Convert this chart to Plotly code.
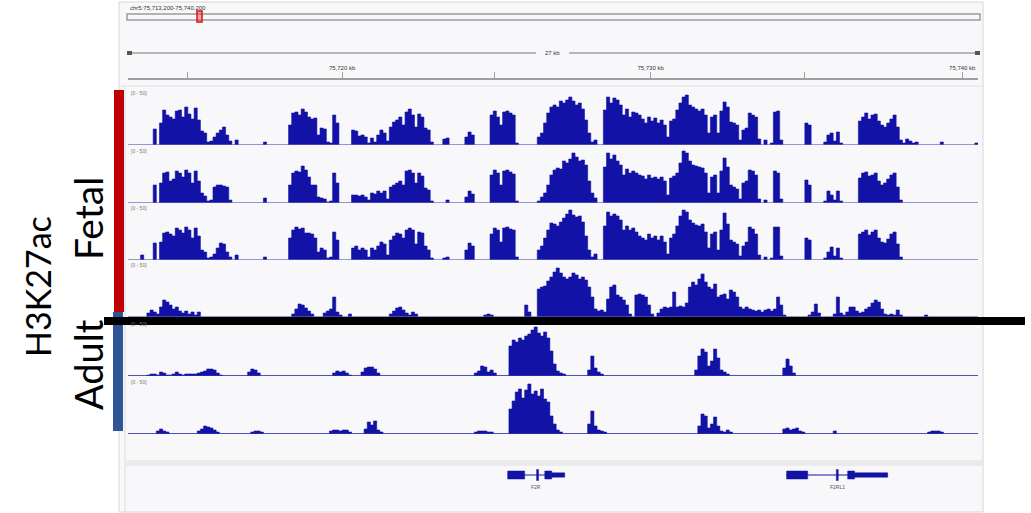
import plotly.graph_objects as go

W, H = 1031, 513

# ---------------------------------------------------------------- data
# Genomic window, in kb from the left edge of the view; coverage in 0.1 kb bins.
VIEW_KB = (0.0, 27.0)
BIN_KB = 0.1
LOCUS = "chr5:75,713,200-75,740,200"
SPAN_LABEL = "27 kb"

RULER_TICKS_KB = [1.9, 6.8, 11.65, 16.6, 21.5, 26.5]
RULER_LABELS = ["", "75,720 kb", "", "75,730 kb", "", "75,740 kb"]

DATA_RANGE = "[0 - 50]"

# H3K27ac coverage, runs of consecutive bins: (first bin start in kb, signal values)
FETAL_1 = [
    (0.8, [16]),
    (1.0, [22, 35, 30, 28, 26, 34, 35, 28, 38, 31, 26, 37, 25, 14, 12, 3]),
    (2.6, [4, 8, 12, 15, 18, 10, 4]),
    (3.4, [5]),
    (4.3, [3]),
    (5.1, [20, 32, 33, 30, 36, 33, 28, 26, 27, 10, 17, 16, 3, 2, 30, 22]),
    (7.1, [15, 14, 9, 10, 8, 2, 7, 3, 10, 15, 12, 4, 18, 23, 25, 28, 20, 33, 36, 30,
           18, 31, 28, 17, 15, 3]),
    (10.0, [6, 7]),
    (10.7, [8, 13, 10]),
    (11.5, [30, 34, 28, 20, 33, 34, 32, 30, 2]),
    (13.0, [8, 12, 22, 32, 38, 40, 38, 44, 42, 45, 48, 44, 40, 42, 36, 25, 12, 3, 5]),
    (15.1, [35, 48, 42, 47, 45, 40, 30, 36, 28, 33, 32, 30, 26, 22, 28, 24, 27, 22, 25, 20,
            8, 24, 26, 35, 42, 48, 50, 40, 38, 36, 34, 36, 30, 12, 28, 30, 12, 34, 43, 38,
            23, 22, 20, 5, 15, 17, 32, 30, 28, 6, 0, 5, 0, 2, 33, 34, 5]),
    (21.5, [22, 20]),
    (22.1, [3, 10, 12, 4, 13, 2]),
    (23.2, [24, 28, 32, 26, 30, 31, 24, 20, 18, 22, 26, 30, 18, 5, 2, 6, 4, 2, 3]),
    (25.8, [3]),
    (26.9, [2]),
]

FETAL_2 = [
    (0.8, [18]),
    (1.0, [20, 30, 31, 22, 24, 32, 30, 26, 33, 30, 20, 32, 22, 10, 7, 2]),
    (2.6, [3, 16, 18, 18, 17, 16, 3]),
    (4.3, [5]),
    (5.1, [18, 30, 32, 31, 37, 33, 26, 18, 18, 6, 5, 4, 1, 2, 30, 20]),
    (7.1, [8, 8, 7, 8, 6, 3, 10, 9, 12, 10, 12, 4, 16, 18, 20, 22, 18, 32, 33, 30,
           20, 30, 27, 15, 13, 2]),
    (10.1, [3]),
    (10.7, [6, 12, 9]),
    (11.5, [28, 33, 30, 18, 32, 33, 31, 29, 2]),
    (13.0, [2, 6, 10, 18, 28, 33, 35, 34, 42, 40, 44, 50, 46, 42, 43, 38, 22, 10, 5]),
    (15.1, [36, 50, 44, 48, 42, 38, 28, 34, 30, 32, 30, 28, 27, 24, 28, 25, 26, 24, 26, 22,
            8, 25, 27, 30, 40, 52, 50, 42, 38, 37, 36, 35, 30, 10, 26, 28, 10, 32, 45, 36,
            18, 16, 14, 4, 20, 22, 33, 32, 28, 4, 0, 3, 0, 0, 32, 30, 4]),
    (21.5, [23, 18]),
    (22.1, [2, 12, 8, 3, 12, 2]),
    (23.2, [25, 30, 31, 27, 28, 30, 22, 18, 20, 24, 28, 30, 16, 3]),
]

FETAL_3 = [
    (0.4, [5]),
    (0.8, [17]),
    (1.0, [18, 27, 28, 26, 24, 32, 30, 27, 33, 30, 22, 32, 24, 10, 8, 2]),
    (2.6, [3, 6, 12, 17, 16, 8, 3]),
    (3.4, [5]),
    (4.3, [3]),
    (5.1, [22, 30, 33, 31, 32, 27, 27, 26, 22, 8, 12, 10, 2, 3, 28, 20]),
    (7.1, [12, 14, 10, 12, 10, 3, 12, 10, 14, 18, 16, 5, 20, 24, 27, 26, 22, 30, 32, 30,
           16, 28, 27, 14, 10, 2]),
    (10.0, [2, 3]),
    (10.7, [10, 17, 14]),
    (11.5, [26, 32, 30, 18, 32, 33, 31, 30, 3]),
    (13.0, [10, 14, 22, 30, 37, 36, 34, 38, 42, 46, 50, 45, 43, 44, 38, 24, 10, 3, 6]),
    (15.1, [34, 48, 44, 46, 44, 40, 30, 34, 30, 32, 28, 24, 22, 20, 26, 22, 24, 20, 24, 18,
            6, 22, 26, 34, 44, 50, 48, 40, 37, 35, 34, 36, 28, 12, 26, 28, 10, 30, 47, 36,
            20, 18, 16, 4, 14, 18, 33, 31, 26, 5, 0, 3, 0, 2, 33, 33, 4]),
    (21.5, [22, 20]),
    (22.1, [2, 8, 13, 4, 12, 2]),
    (23.2, [26, 28, 30, 25, 28, 30, 22, 18, 17, 21, 26, 28, 16, 3]),
]

FETAL_4 = [
    (0.6, [4, 7, 5, 3, 10, 17, 15, 12, 8, 10, 6, 4, 6, 3, 5, 2, 5]),
    (5.2, [3, 8, 13, 12, 9, 6, 3]),
    (6.2, [4, 6, 8, 20, 5, 2, 0, 0, 3]),
    (8.3, [3, 6, 9, 10, 7, 4, 2, 5]),
    (9.1, [3]),
    (11.3, [2, 3, 2]),
    (12.6, [12, 5]),
    (13.0, [28, 30, 31, 36, 40, 45, 49, 44, 40, 38,
            40, 44, 42, 38, 40, 37, 30, 20, 8, 6,
            7, 5, 18, 30, 32, 22, 20, 17, 12, 3,
            0, 22, 23, 22, 20, 12, 3, 0, 4, 8,
            10, 9, 10, 25, 10, 11, 10, 14, 30, 35,
            32, 38, 43, 35, 30, 28, 33, 20, 22, 23,
            18, 27, 25, 20, 10, 8, 10, 8, 7, 6,
            7, 5, 7, 8, 6, 8, 20, 12, 2]),
    (21.6, [2, 5, 13, 4]),
    (22.4, [3, 20, 4, 2, 5, 10, 10, 6, 4, 5, 8, 10, 14, 17, 15, 8, 3, 2, 3, 2, 7, 2]),
    (25.3, [2]),
]

ADULT_1 = [
    (0.6, [1, 2, 2, 1, 4, 3, 1, 1, 2, 4, 2, 1, 2, 2, 2, 2, 3, 4, 5, 7, 7, 6, 3, 1]),
    (3.8, [4, 7, 6, 3]),
    (6.5, [3, 5, 4, 5, 3, 1]),
    (7.4, [4, 8, 9, 9, 7, 3]),
    (11.0, [3, 5, 10, 9, 4, 6, 3]),
    (12.1, [30, 36, 34, 38, 36, 40, 42, 46, 49, 43, 40, 44, 38, 25, 12, 5, 3, 2]),
    (14.6, [6, 20, 8, 4, 2]),
    (18.0, [6, 20, 27, 24, 10, 15, 27, 18, 6, 4, 2]),
    (20.8, [8, 17, 10, 3]),
]

ADULT_2 = [
    (0.9, [3, 5, 3, 2]),
    (2.2, [3, 5, 8, 7, 6, 4, 2]),
    (3.9, [2, 3, 3, 2]),
    (6.4, [3, 4, 4, 3, 4, 4, 2]),
    (7.5, [5, 12, 9, 13, 4, 2]),
    (11.0, [2, 3, 3, 3, 2, 2]),
    (12.1, [25, 33, 42, 45, 36, 44, 50, 40, 43, 38, 45, 35, 32, 18, 10, 4, 2]),
    (14.6, [10, 23, 8, 4, 3, 2]),
    (18.1, [8, 20, 18, 6, 10, 17, 8, 3, 2, 4, 2]),
    (20.8, [5, 6, 4, 5, 6, 3, 2]),
    (22.4, [3]),
    (25.4, [2, 3, 3, 3, 2]),
]

# Gene models (kb): coding exons, UTR blocks, full span and name
GENE_NAMES = ["F2R", "F2RL1"]
GENE_SPANS = [(12.06, 13.87), (20.92, 24.13)]
GENE_EXONS = [
    [(12.06, 12.60), (12.98, 13.04), (13.24, 13.46)],
    [(20.92, 21.59), (22.50, 22.56), (22.86, 23.08)],
]
GENE_UTRS = [
    [(13.46, 13.87)],
    [(23.08, 24.13)],
]

# ---------------------------------------------------------------- layout constants
BLUE = "#1212a6"
TRACK_BASES_PX = [145, 203, 260, 317, 376, 434]
TRACK_HEIGHT_PX = 55
X0_PX, X1_PX = 128, 978


def px(x):
    return x / W


def py(y):
    return 1 - y / H


def step_outline(runs):
    """Bin-edge outline of a coverage track (drawn with an hv step line)."""
    xs, ys = [VIEW_KB[0]], [0]
    for start, values in runs:
        for i, v in enumerate(values):
            xs.append(start + BIN_KB * i)
            ys.append(v)
        xs.append(start + BIN_KB * len(values))
        ys.append(0)
    xs.append(VIEW_KB[1])
    ys.append(0)
    return xs, ys


tracks = [FETAL_1, FETAL_2, FETAL_3, FETAL_4, ADULT_1, ADULT_2]

fig = go.Figure()

for k, runs in enumerate(tracks, start=1):
    xs, ys = step_outline(runs)
    fig.add_trace(go.Scatter(
        x=xs, y=ys, mode="lines", line=dict(color=BLUE, width=0.6, shape="hv"),
        fill="tozeroy", fillcolor=BLUE,
        xaxis="x", yaxis="y" if k == 1 else f"y{k}",
        hoverinfo="skip", showlegend=False,
    ))

layout_axes = {}
for k, base in enumerate(TRACK_BASES_PX, start=1):
    name = "yaxis" if k == 1 else f"yaxis{k}"
    layout_axes[name] = dict(
        domain=[py(base), py(base - TRACK_HEIGHT_PX)],
        range=[0, TRACK_HEIGHT_PX], visible=False, fixedrange=True,
        anchor="x",
    )
# gene track axis
layout_axes["yaxis7"] = dict(domain=[py(490), py(460)], range=[-1.5, 1.5],
                             visible=False, fixedrange=True, anchor="x")

shapes = []
annotations = []

# panel background and frame
shapes.append(dict(type="rect", xref="paper", yref="paper", x0=px(119), x1=px(983),
                   y0=py(512), y1=py(2), fillcolor="#f8f8fa",
                   line=dict(color="#d6d6d6", width=1), layer="below"))
shapes.append(dict(type="line", xref="paper", yref="paper", x0=px(125), x1=px(125),
                   y0=py(512), y1=py(86), line=dict(color="#dcdcdc", width=1), layer="below"))
shapes.append(dict(type="line", xref="paper", yref="paper", x0=px(120), x1=px(983),
                   y0=py(86), y1=py(86), line=dict(color="#e0e0e0", width=1), layer="below"))

# chromosome ideogram with current-region marker
shapes.append(dict(type="rect", xref="paper", yref="paper", x0=px(127), x1=px(980),
                   y0=py(20), y1=py(14), line=dict(color="#9c9c9c", width=1.5),
                   fillcolor="rgba(0,0,0,0)"))
shapes.append(dict(type="rect", xref="paper", yref="paper", x0=px(197), x1=px(202),
                   y0=py(22), y1=py(11), line=dict(color="#e01010", width=1.5),
                   fillcolor="rgba(230,30,30,0.35)"))
annotations.append(dict(text=LOCUS, xref="paper", yref="paper", x=px(128), y=py(8),
                        xanchor="left", yanchor="middle", showarrow=False,
                        font=dict(size=6, color="#333", family="Liberation Sans")))

# span ruler
shapes.append(dict(type="line", xref="paper", yref="paper", x0=px(130), x1=px(536),
                   y0=py(53), y1=py(53), line=dict(color="#a0a0a0", width=1.5)))
shapes.append(dict(type="line", xref="paper", yref="paper", x0=px(569), x1=px(976),
                   y0=py(53), y1=py(53), line=dict(color="#a0a0a0", width=1.5)))
for xa, xb in [(127, 132), (975, 980)]:
    shapes.append(dict(type="rect", xref="paper", yref="paper", x0=px(xa), x1=px(xb),
                       y0=py(55), y1=py(51), fillcolor="#555", line=dict(width=0)))
annotations.append(dict(text=SPAN_LABEL, xref="paper", yref="paper", x=px(552), y=py(53),
                        xanchor="center", yanchor="middle", showarrow=False,
                        font=dict(size=6, color="#333", family="Liberation Sans")))

# gene track band
shapes.append(dict(type="rect", xref="paper", yref="paper", x0=px(125), x1=px(982),
                   y0=py(466), y1=py(460), fillcolor="#ebebeb", line=dict(width=0),
                   layer="below"))

# track baselines and data-range labels
for k, base in enumerate(TRACK_BASES_PX, start=1):
    yref = "y" if k == 1 else f"y{k}"
    adult = k >= 5
    shapes.append(dict(type="line", xref="x", yref=yref, x0=VIEW_KB[0], x1=VIEW_KB[1],
                       y0=0, y1=0,
                       line=dict(color="#3030a4" if adult else "#7a7ac0",
                                 width=1.5 if adult else 1)))
    annotations.append(dict(text=DATA_RANGE, xref="paper", yref="paper", x=px(129),
                            y=py(base - TRACK_HEIGHT_PX + 3), xanchor="left",
                            yanchor="middle", showarrow=False,
                            font=dict(size=5, color="#777", family="Liberation Sans")))

# gene models
for name, (g0, g1), exons, utrs in zip(GENE_NAMES, GENE_SPANS, GENE_EXONS, GENE_UTRS):
    shapes.append(dict(type="line", xref="x", yref="y7", x0=g0, x1=g1, y0=0, y1=0,
                       line=dict(color=BLUE, width=1)))
    for a, b in exons:
        hh = 0.55 if (b - a) < 0.1 else 0.4
        shapes.append(dict(type="rect", xref="x", yref="y7", x0=a, x1=b, y0=-hh, y1=hh,
                           fillcolor=BLUE, line=dict(color=BLUE, width=0.5)))
    for a, b in utrs:
        shapes.append(dict(type="rect", xref="x", yref="y7", x0=a, x1=b, y0=-0.22, y1=0.22,
                           fillcolor=BLUE, line=dict(color=BLUE, width=0.5)))
    annotations.append(dict(text=name, xref="x", yref="y7", x=(g0 + g1) / 2, y=-1.2,
                            xanchor="center", yanchor="middle", showarrow=False,
                            font=dict(size=5, color="#555", family="Liberation Sans")))

# sample group bars, labels and divider
shapes.append(dict(type="rect", xref="paper", yref="paper", x0=px(114), x1=px(124),
                   y0=py(312), y1=py(90), fillcolor="#c00000", line=dict(width=0)))
shapes.append(dict(type="rect", xref="paper", yref="paper", x0=px(113), x1=px(123),
                   y0=py(431), y1=py(312), fillcolor="#2f5597", line=dict(width=0)))
shapes.append(dict(type="rect", xref="paper", yref="paper", x0=px(104), x1=px(1025),
                   y0=py(325), y1=py(317), fillcolor="#000000", line=dict(width=0),
                   layer="above"))

LABEL_FAMILY = "Lato, Carlito, Calibri, sans-serif"
for text, x, y, size in [("Fetal", 88, 219, 39), ("Adult", 88, 365, 38),
                         ("H3K27ac", 37, 287, 34)]:
    annotations.append(dict(text=text, xref="paper", yref="paper", x=px(x), y=py(y),
                            xanchor="center", yanchor="middle", textangle=-90,
                            showarrow=False,
                            font=dict(family=LABEL_FAMILY, size=size, color="#000")))

fig.update_layout(
    width=W, height=H,
    margin=dict(l=0, r=0, t=0, b=0),
    paper_bgcolor="#ffffff", plot_bgcolor="rgba(0,0,0,0)",
    xaxis=dict(
        domain=[px(X0_PX), px(X1_PX)], range=list(VIEW_KB),
        anchor="free", position=py(79), side="top",
        showline=True, linecolor="#a0a0a0", linewidth=2,
        ticks="outside", ticklen=6, tickcolor="#a0a0a0", tickwidth=1,
        tickvals=RULER_TICKS_KB, ticktext=RULER_LABELS,
        tickfont=dict(size=6, color="#333", family="Liberation Sans"),
        showgrid=False, zeroline=False, fixedrange=True,
    ),
    shapes=shapes, annotations=annotations,
    **layout_axes,
)

fig.write_html("out.html")
